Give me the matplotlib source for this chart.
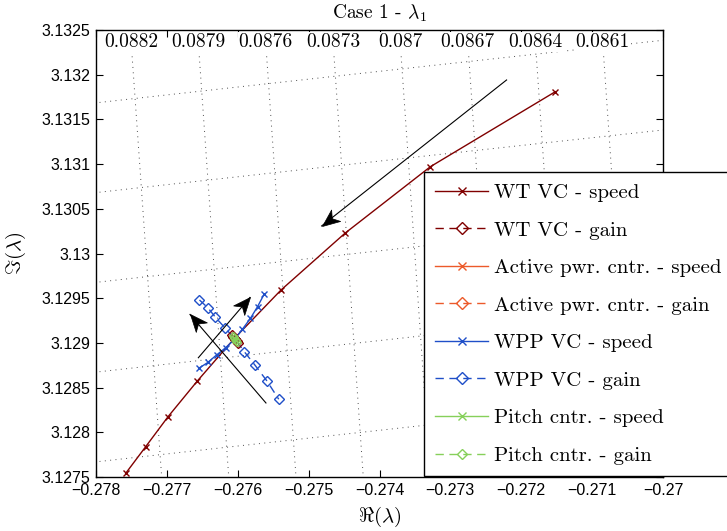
import numpy as np
import matplotlib
matplotlib.use('Agg')
import matplotlib.pyplot as plt
from matplotlib.transforms import blended_transform_factory, Affine2D
from matplotlib.markers import MarkerStyle
from matplotlib.path import Path

plt.rcParams['mathtext.fontset'] = 'cm'
plt.rcParams['font.family'] = ['Liberation Sans', 'DejaVu Sans']
plt.rcParams['axes.unicode_minus'] = True

# ---------------- data ----------------
wt_speed_re = [-0.271519, -0.273282, -0.274488, -0.275389, -0.276047, -0.276570, -0.276984, -0.277299, -0.277581]
wt_speed_im = [3.131810, 3.130971, 3.130226, 3.129592, 3.129051, 3.128574, 3.128174, 3.127839, 3.127541]

wt_gain_re = [-0.276085, -0.276062, -0.276039, -0.276016, -0.275993]
wt_gain_im = [3.129090, 3.129067, 3.129044, 3.129021, 3.128998]

ap_speed_re = [-0.276041, -0.276039, -0.276037]
ap_speed_im = [3.129046, 3.129044, 3.129042]
ap_gain_re = [-0.276043, -0.276039, -0.276035]
ap_gain_im = [3.129048, 3.129044, 3.129040]

wpp_speed_re = [-0.275626, -0.275721, -0.275821, -0.275934, -0.276039, -0.276171, -0.276299, -0.276422, -0.276550]
wpp_speed_im = [3.129547, 3.129405, 3.129275, 3.129153, 3.129044, 3.128946, 3.128865, 3.128781, 3.128716]

wpp_gain_re = [-0.276540, -0.276422, -0.276315, -0.276183, -0.276039, -0.275908, -0.275759, -0.275588, -0.275422]
wpp_gain_im = [3.129480, 3.129393, 3.129287, 3.129170, 3.129044, 3.128902, 3.128753, 3.128574, 3.128370]

pitch_speed_re = [-0.276046, -0.276039, -0.276032]
pitch_speed_im = [3.129050, 3.129044, 3.129038]
pitch_gain_re = [-0.276070, -0.276049, -0.276029, -0.276008]
pitch_gain_im = [3.129075, 3.129054, 3.129034, 3.129013]

series_labels = ['WT VC - speed', 'WT VC - gain',
                 'Active pwr. cntr. - speed', 'Active pwr. cntr. - gain',
                 'WPP VC - speed', 'WPP VC - gain',
                 'Pitch cntr. - speed', 'Pitch cntr. - gain']

# sgrid: damping ratios (with their displayed labels) and natural frequencies
zeta_vals = [0.088247, 0.087948, 0.087648, 0.087348, 0.087049, 0.086748, 0.086447, 0.086147]
zeta_labels = ['0.0882', '0.0879', '0.0876', '0.0873', '0.087', '0.0867', '0.0864', '0.0861']
wn_vals = [3.140, 3.141, 3.142, 3.143, 3.144]

# arrows (tail -> tip) in data units
arrow_tails = [(-0.272207, 3.131941), (-0.275602, 3.128328), (-0.276556, 3.128834)]
arrow_tips = [(-0.274817, 3.130308), (-0.276674, 3.129318), (-0.275828, 3.129508)]

xticks = [-0.278, -0.277, -0.276, -0.275, -0.274, -0.273, -0.272, -0.271, -0.270]
xtick_labels = ['\u22120.278', '\u22120.277', '\u22120.276', '\u22120.275', '\u22120.274',
                '\u22120.273', '\u22120.272', '\u22120.271', '\u22120.27']
yticks = [3.1275, 3.128, 3.1285, 3.129, 3.1295, 3.13, 3.1305, 3.131, 3.1315, 3.132, 3.1325]
ytick_labels = ['3.1275', '3.128', '3.1285', '3.129', '3.1295', '3.13', '3.1305',
                '3.131', '3.1315', '3.132', '3.1325']

# ---------------- figure ----------------
W, H = 727, 531
fig = plt.figure(figsize=(W / 100, H / 100), dpi=100)
ax = fig.add_axes([96 / W, 54 / H, 567 / W, 447 / H])
ax.set_xlim(-0.278, -0.270)
ax.set_ylim(3.1275, 3.1325)

grid_kw = dict(color='0.3', lw=0.7, ls=(0, (1, 4.5)), zorder=1)
wn_range = np.linspace(3.137, 3.147, 50)
for z in zeta_vals:
    ax.plot(-z * wn_range, wn_range * np.sqrt(1 - z ** 2), **grid_kw)
re_range = np.linspace(-0.279, -0.269, 50)
for w in wn_vals:
    ax.plot(re_range, np.sqrt(w ** 2 - re_range ** 2), **grid_kw)

btf = blended_transform_factory(ax.transData, ax.transAxes)
lab_frac = 1 - 12 / 447
lab_im = 3.1275 + lab_frac * 0.005
for z, lab in zip(zeta_vals, zeta_labels):
    xr = -z * lab_im / np.sqrt(1 - z ** 2)
    ax.text(xr, lab_frac, lab, transform=btf, ha='center', va='center',
            fontfamily='cmr10', fontsize=14, zorder=3,
            bbox=dict(facecolor='white', edgecolor='none', pad=0.5))

c_wt = '#800000'
c_ap = '#ec5a2a'
c_wpp = '#1f4fc8'
c_pitch = '#86d05a'
dash = (0, (6, 4))
ms_x, ms_d = 5, 5

handles = []
handles += ax.plot(wt_speed_re, wt_speed_im, color=c_wt, lw=1, marker='x', ms=ms_x, zorder=4)
handles += ax.plot(wt_gain_re, wt_gain_im, color=c_wt, lw=1, ls=dash, marker='D', ms=ms_d,
                   mfc='none', zorder=6)
handles += ax.plot(ap_speed_re, ap_speed_im, color=c_ap, lw=1, marker='x', ms=ms_x, zorder=4)
handles += ax.plot(ap_gain_re, ap_gain_im, color=c_ap, lw=1, ls=dash, marker='D', ms=ms_d,
                   mfc='none', zorder=4)
handles += ax.plot(wpp_speed_re, wpp_speed_im, color=c_wpp, lw=1, marker='x', ms=ms_x, zorder=5)
handles += ax.plot(wpp_gain_re, wpp_gain_im, color=c_wpp, lw=1, ls=dash, marker='D', ms=ms_d,
                   mfc='none', zorder=5)
handles += ax.plot(pitch_speed_re, pitch_speed_im, color=c_pitch, lw=1, marker='x', ms=ms_x, zorder=7)
handles += ax.plot(pitch_gain_re, pitch_gain_im, color=c_pitch, lw=1, ls=dash, marker='D', ms=4,
                   mfc='none', zorder=7)

# arrows: thin line plus a notched ("vback") head built as a rotated custom marker
head_path = Path([(0, 0), (-1, 0.42), (-0.72, 0), (-1, -0.42), (0, 0)],
                 [Path.MOVETO, Path.LINETO, Path.LINETO, Path.LINETO, Path.CLOSEPOLY])
for tail, tip in zip(arrow_tails, arrow_tips):
    ax.plot([tail[0], tip[0]], [tail[1], tip[1]], color='k', lw=0.8, zorder=8)
    p0 = ax.transData.transform(tail)
    p1 = ax.transData.transform(tip)
    ang = np.degrees(np.arctan2(p1[1] - p0[1], p1[0] - p0[0]))
    m = MarkerStyle(head_path, transform=Affine2D().rotate_deg(ang))
    ax.plot([tip[0]], [tip[1]], marker=m, ms=25, color='k', mec='k', mew=0.5, zorder=9)

ax.set_xticks(xticks)
ax.set_xticklabels(xtick_labels)
ax.set_yticks(yticks)
ax.set_yticklabels(ytick_labels)
ax.tick_params(direction='in', top=True, right=True, length=5, width=0.8,
               labelsize=11.5, pad=4)
for sp in ax.spines.values():
    sp.set_linewidth(1.0)

ax.set_xlabel(r'$\Re(\lambda)$', fontsize=15)
ax.xaxis.set_label_coords(0.5, -0.062)
ax.set_ylabel(r'$\Im(\lambda)$', fontsize=15)
ax.yaxis.set_label_coords(-0.12, 0.5)
ax.set_title(r'Case 1 - $\lambda_1$', fontfamily='cmr10', fontsize=14, pad=8)

leg = ax.legend(handles, series_labels, loc='upper left',
                bbox_to_anchor=(424 / W, 1 - 172 / H), bbox_transform=fig.transFigure,
                prop={'family': 'cmr10', 'size': 15}, frameon=True, fancybox=False,
                edgecolor='k', framealpha=1, borderaxespad=0, handlelength=2.5,
                handletextpad=0.3, labelspacing=0.91, borderpad=0.55, numpoints=1,
                markerscale=1.15)
leg.get_frame().set_linewidth(1.0)
leg.set_zorder(10)

fig.savefig('out.png', dpi=100)
